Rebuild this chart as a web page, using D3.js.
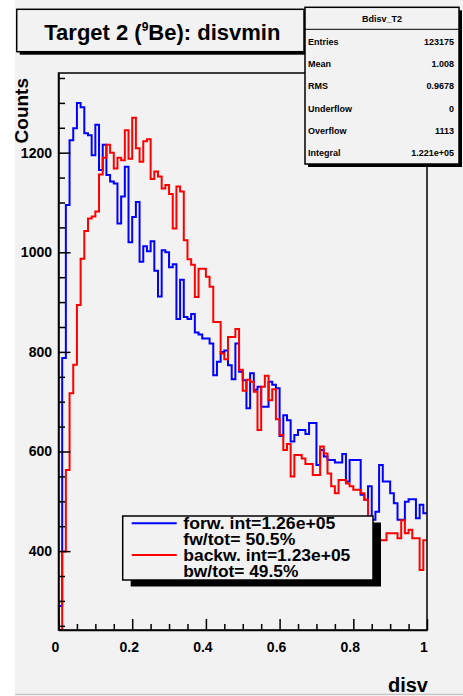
<!DOCTYPE html>
<html><head><meta charset="utf-8">
<script src="https://cdn.jsdelivr.net/npm/d3@7"></script>
<style>
html,body{margin:0;padding:0;background:#fff;}
svg{display:block;font-family:"Liberation Sans",Arial,Helvetica,sans-serif;}
</style>
</head><body>
<svg id="c" width="463" height="696"></svg>
<script>
// ---------------- data ----------------
const xMin = 0, xMax = 1, nBins = 100;
const yMin = 241.6, yMax = 1360;

const forwCounts = [
  290, 788, 1095, 1225, 1249, 1300, 1291, 1239, 1235, 1195,
  1256, 1165, 1216, 1155, 1142, 1138, 1058, 1112, 1172, 1020,
  1071, 1101, 981, 1012, 1002, 1022, 963, 911, 1004, 1000,
  970, 976, 866, 945, 870, 866, 876, 839, 835, 827,
  827, 817, 753, 780, 800, 803, 773, 745, 817, 760,
  743, 687, 757, 724, 730, 690, 690, 740, 734, 727,
  631, 673, 663, 620, 633, 643, 643, 635, 657, 657,
  573, 603, 590, 583, 583, 578, 578, 595, 540, 583,
  583, 583, 513, 503, 530, 463, 479, 573, 540, 540,
  516, 496, 463, 463, 499, 504, 504, 466, 493, 476
];
const backwCounts = [
  230, 399, 563, 717, 774, 894, 987, 1043, 1068, 1072,
  1082, 1156, 1190, 1216, 1200, 1168, 1190, 1185, 1245, 1188,
  1270, 1209, 1182, 1223, 1227, 1147, 1162, 1152, 1128, 1135,
  1117, 1048, 1132, 1122, 1024, 986, 975, 910, 967, 967,
  951, 931, 860, 860, 797, 785, 830, 830, 846, 764,
  722, 744, 740, 720, 643, 730, 752, 703, 725, 665,
  633, 603, 615, 550, 593, 593, 586, 575, 575, 553,
  553, 610, 596, 556, 530, 516, 543, 543, 536, 530,
  523, 523, 516, 503, 456, 449, 449, 422, 422, 436,
  436, 436, 426, 462, 436, 443, 426, 426, 362, 422
];
const xTickValues = [0, 0.2, 0.4, 0.6, 0.8, 1];
const yTickValues = [400, 600, 800, 1000, 1200];
const seriesNames = ["forw", "backw"];
const seriesColors = ["#0000ff", "#ff0000"];
const legendLines = [["forw. int=1.26e+05", "fw/tot= 50.5%"], ["backw. int=1.23e+05", "bw/tot= 49.5%"]];
const legendWidths = [[152, 112], [167, 115]];
const statsTitle = "Bdisv_T2";
const statsLabels = ["Entries", "Mean", "RMS", "Underflow", "Overflow", "Integral"];
const statsValues = ["123175", "1.008", "0.9678", "0", "1113", "1.221e+05"];
const titleParts = ["Target 2 (", "9", "Be): disvmin"];
const xTitle = "disv", yTitle = "Counts";

// ---------------- layout ----------------
const W = 463, H = 696;
const L = 58.5, R = 427, T = 73, B = 630;
const svg = d3.select("#c");

// canvas
svg.append("rect").attr("x", 15).attr("y", 0).attr("width", W - 15).attr("height", 694).attr("fill", "#f2f2f2");
svg.append("line").attr("x1", 15).attr("x2", W).attr("y1", 694.5).attr("y2", 694.5).attr("stroke", "#c4c4c4").attr("stroke-width", 1.5);

const x = d3.scaleLinear([xMin, xMax], [L, R]);
const y = d3.scaleLinear([yMin, yMax], [B, T]).clamp(true);

// clip
svg.append("clipPath").attr("id", "fr").append("rect").attr("x", L).attr("y", T).attr("width", R - L).attr("height", B - T);

// histograms
const binW = (xMax - xMin) / nBins;
const line = d3.line().x(d => x(d[0])).y(d => y(d[1])).curve(d3.curveStepAfter);
[forwCounts, backwCounts].forEach((counts, k) => {
  const pts = [[xMin, yMin]];
  counts.forEach((v, i) => pts.push([xMin + i * binW, v]));
  pts.push([xMax, counts[counts.length - 1]]);
  svg.append("path").attr("d", line(pts)).attr("fill", "none")
    .attr("stroke", seriesColors[k]).attr("stroke-width", 2)
    .attr("clip-path", "url(#fr)");
});

// frame
svg.append("rect").attr("x", L).attr("y", T).attr("width", R - L).attr("height", B - T)
  .attr("fill", "none").attr("stroke", "#000").attr("stroke-width", 1.5);

// x axis
const xMinor = d3.range(0, 21).map(i => i * 0.05).filter(v => Math.abs(v * 5 - Math.round(v * 5)) > 1e-6);
const gx = svg.append("g").attr("transform", `translate(0,${B})`);
gx.call(d3.axisBottom(x).tickValues(xTickValues).tickSize(-11).tickSizeOuter(0).tickPadding(12).tickFormat(d => String(d)));
const gxm = svg.append("g").attr("transform", `translate(0,${B})`);
gxm.call(d3.axisBottom(x).tickValues(xMinor).tickSize(-6).tickSizeOuter(0).tickFormat(""));
gxm.select(".domain").remove();
gx.select(".domain").attr("stroke-width", 1.5);
gx.selectAll("text").attr("font-size", 14).attr("font-weight", "bold").attr("fill", "#000")
  .attr("font-family", "Liberation Sans, Arial, sans-serif").attr("dx", -3.5);

// y axis
const yMinor = d3.range(250, 1360, 50).filter(v => v % 200 !== 0);
const gy = svg.append("g").attr("transform", `translate(${L},0)`);
gy.call(d3.axisLeft(y).tickValues(yTickValues).tickSize(-12).tickSizeOuter(0).tickPadding(6.5).tickFormat(d => String(d)));
const gym = svg.append("g").attr("transform", `translate(${L},0)`);
gym.call(d3.axisLeft(y).tickValues(yMinor).tickSize(-6.5).tickSizeOuter(0).tickFormat(""));
gym.select(".domain").remove();
gy.select(".domain").attr("stroke-width", 1.5);
gy.selectAll("text").attr("font-size", 14).attr("font-weight", "bold").attr("fill", "#000")
  .attr("font-family", "Liberation Sans, Arial, sans-serif");
svg.selectAll(".tick line").attr("stroke", "#000").attr("stroke-width", 1.5);

// axis titles
svg.append("text").attr("x", R + 1).attr("y", 692).attr("text-anchor", "end")
  .attr("font-size", 20).attr("font-weight", "bold").text(xTitle);
svg.append("text").attr("transform", `translate(27.5,${T + 5}) rotate(-90)`).attr("text-anchor", "end")
  .attr("font-size", 19).attr("font-weight", "bold").text(yTitle);

// legend
const lg = { x: 122.7, y: 516, w: 250.3, h: 64 };
svg.append("rect").attr("x", lg.x + 8).attr("y", lg.y + 6.5).attr("width", lg.w).attr("height", lg.h).attr("fill", "#000");
svg.append("rect").attr("x", lg.x).attr("y", lg.y).attr("width", lg.w).attr("height", lg.h)
  .attr("fill", "#f2f2f2").attr("stroke", "#000").attr("stroke-width", 1.5);
legendLines.forEach((lines, k) => {
  const base = lg.y + 13.3 + k * 31.7;
  svg.append("line").attr("x1", lg.x + 9).attr("x2", lg.x + 54).attr("y1", base - 6).attr("y2", base - 6)
    .attr("stroke", seriesColors[k]).attr("stroke-width", 2);
  lines.forEach((t, j) => {
    svg.append("text").attr("x", lg.x + 60.6).attr("y", base + j * 15.8)
      .attr("font-size", 16).attr("font-weight", "bold")
      .attr("textLength", legendWidths[k][j]).attr("lengthAdjust", "spacingAndGlyphs").text(t);
  });
});

// title box
const tb = { x: 16.7, y: 9.3, w: 287.3, h: 42.4 };
svg.append("rect").attr("x", tb.x + 3).attr("y", tb.y + 3).attr("width", tb.w).attr("height", tb.h).attr("fill", "#000");
svg.append("rect").attr("x", tb.x).attr("y", tb.y).attr("width", tb.w).attr("height", tb.h)
  .attr("fill", "#f2f2f2").attr("stroke", "#000").attr("stroke-width", 1.5);
const tt = svg.append("text").attr("x", tb.x + tb.w / 2 + 2).attr("y", 39.5).attr("text-anchor", "middle")
  .attr("font-size", 22).attr("font-weight", "bold");
tt.append("tspan").text(titleParts[0]);
tt.append("tspan").attr("font-size", 12).attr("dy", -8.5).text(titleParts[1]);
tt.append("tspan").attr("dy", 8.5).text(titleParts[2]);

// stats box
const sb = { x: 305, y: 7.3, w: 154, h: 156.7 };
svg.append("rect").attr("x", sb.x + 3).attr("y", sb.y + 3).attr("width", sb.w).attr("height", sb.h).attr("fill", "#000");
svg.append("rect").attr("x", sb.x).attr("y", sb.y).attr("width", sb.w).attr("height", sb.h)
  .attr("fill", "#f2f2f2").attr("stroke", "#000").attr("stroke-width", 1.5);
svg.append("line").attr("x1", sb.x).attr("x2", sb.x + sb.w).attr("y1", 29.3).attr("y2", 29.3)
  .attr("stroke", "#000").attr("stroke-width", 1);
svg.append("text").attr("x", sb.x + sb.w / 2).attr("y", 22).attr("text-anchor", "middle")
  .attr("font-size", 9).attr("font-weight", "bold").text(statsTitle);
statsLabels.forEach((lab, i) => {
  const yy = 45 + i * 22.2;
  svg.append("text").attr("x", sb.x + 3).attr("y", yy).attr("font-size", 9).attr("font-weight", "bold").text(lab);
  svg.append("text").attr("x", sb.x + sb.w - 5).attr("y", yy).attr("text-anchor", "end")
    .attr("font-size", 9).attr("font-weight", "bold").text(statsValues[i]);
});
</script>
</body></html>
